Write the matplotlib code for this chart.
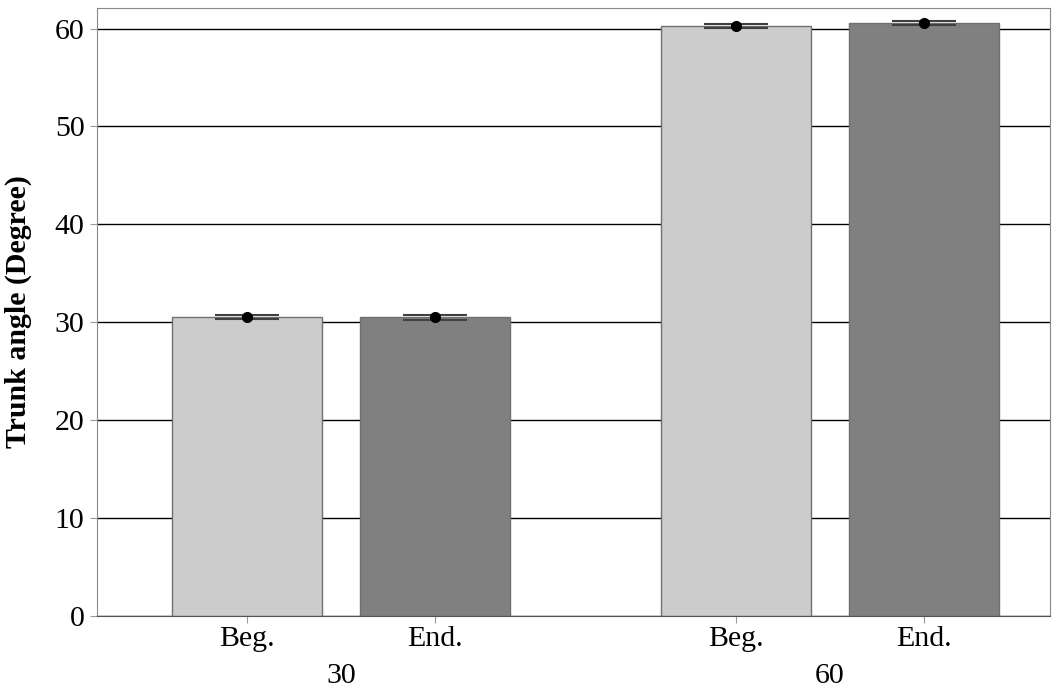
import numpy as np
import matplotlib.pyplot as plt

plt.rcParams['font.family'] = ['Liberation Serif', 'DejaVu Serif']

groups = ['30', '60']
phases = ['Beg.', 'End.']
means = [30.5, 30.5, 60.3, 60.6]
errs = [0.2, 0.25, 0.2, 0.2]
bar_colors = ['#cccccc', '#808080', '#cccccc', '#808080']
pos = np.array([0, 1, 2.6, 3.6])

fig = plt.figure(figsize=(10.63, 6.88), dpi=100)
ax = fig.add_axes([97/1063, 72/688, 953/1063, 608/688])

ax.bar(pos, means, width=0.8, color=bar_colors, edgecolor='#707070', linewidth=1, zorder=2)
ax.errorbar(pos, means, yerr=errs, fmt='none', ecolor='#404040', capsize=23, capthick=1.5, elinewidth=1.5, zorder=3)
ax.plot(pos, means, 'o', color='black', markersize=7, zorder=4)

ax.set_xlim(-0.798, 4.271)
ax.set_ylim(0, 62.1)
ax.set_yticks([0, 10, 20, 30, 40, 50, 60])
ax.yaxis.grid(True, color='black', linewidth=1)
ax.set_axisbelow(True)
ax.set_xticks(pos)
ax.set_xticklabels(phases * 2)
ax.tick_params(axis='both', labelsize=21.5, color='#999999', length=5)
ax.tick_params(axis='x', pad=2)
ax.tick_params(axis='y', length=5, pad=4)
for s in ax.spines.values():
    s.set_color('#888888')
ax.spines['bottom'].set_color('#555555')
ax.set_ylabel('Trunk angle (Degree)', fontsize=21.5, fontweight='bold', labelpad=16)

for i, g in enumerate(groups):
    ax.text(pos[2*i:2*i+2].mean(), -0.078, g, transform=ax.get_xaxis_transform(),
            ha='center', va='top', fontsize=21.5)

fig.savefig('out.png', dpi=100)
